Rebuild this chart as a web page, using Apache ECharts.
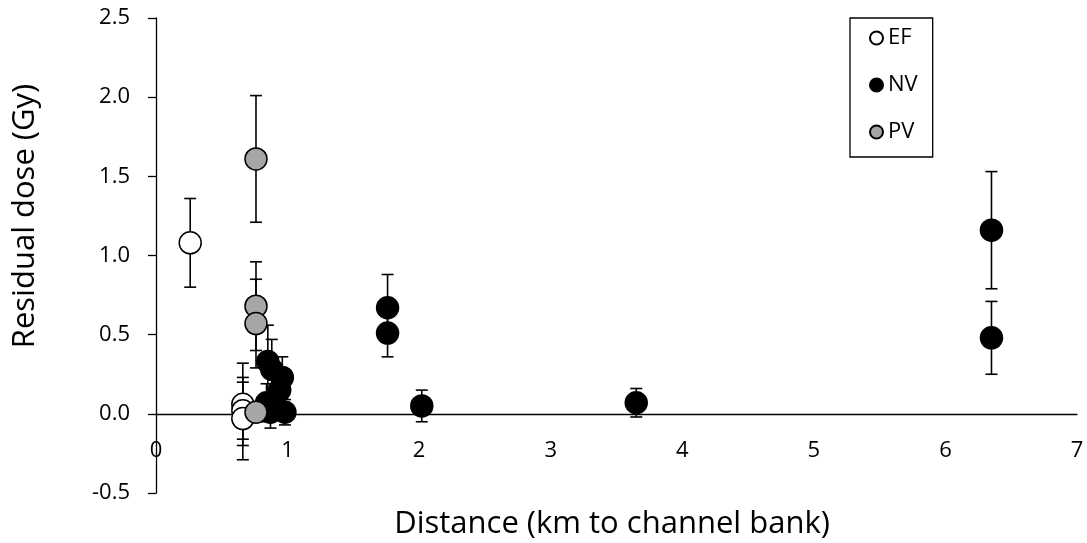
<!DOCTYPE html>
<html>
<head>
<meta charset="utf-8">
<script src="https://cdn.jsdelivr.net/npm/echarts@6/dist/echarts.min.js"></script>
<style>
  html, body { margin: 0; padding: 0; background: #fff; }
  #chart { width: 1087px; height: 543px; }
</style>
</head>
<body>
<div id="chart"></div>
<script>
// distance (km to channel bank), residual dose (Gy), error (Gy)
const efX = [0.26, 0.66, 0.66, 0.66]
const efY = [1.08, 0.06, 0.02, -0.03]
const efErr = [0.28, 0.26, 0.18, 0.26]

const nvX = [0.85, 0.88, 0.96, 0.94, 0.84, 0.90, 0.98, 0.87, 1.76, 1.76, 2.02, 3.65, 6.35, 6.35]
const nvY = [0.33, 0.28, 0.23, 0.15, 0.07, 0.06, 0.01, 0.01, 0.67, 0.51, 0.05, 0.07, 1.16, 0.48]
const nvErr = [0.23, 0.19, 0.13, 0.10, 0.12, 0.10, 0.08, 0.10, 0.21, 0.15, 0.10, 0.09, 0.37, 0.23]

const pvX = [0.76, 0.76, 0.76, 0.76]
const pvY = [1.61, 0.68, 0.57, 0.01]
const pvErr = [0.40, 0.28, 0.28, 0.05]

const font = '"Open Sans", "DejaVu Sans", sans-serif'

// plot area
const gridTop = 18
const gridBottom = 50
const gridHeight = 543 - gridTop - gridBottom
const yMin = -0.5
const yMax = 2.5

function points(xs, ys) {
  return xs.map((x, i) => [x, ys[i]])
}

function errorData(xs, ys, errs) {
  return xs.map((x, i) => [x, ys[i] - errs[i], ys[i] + errs[i]])
}

// vertical error bar with caps, drawn behind the markers
function renderError(params, api) {
  const lo = api.coord([api.value(0), api.value(1)])
  const hi = api.coord([api.value(0), api.value(2)])
  const half = 6
  const style = { stroke: '#000', lineWidth: 1.6 }
  return {
    type: 'group',
    children: [
      { type: 'line', shape: { x1: lo[0], y1: lo[1], x2: hi[0], y2: hi[1] }, style },
      { type: 'line', shape: { x1: lo[0] - half, y1: lo[1], x2: lo[0] + half, y2: lo[1] }, style },
      { type: 'line', shape: { x1: hi[0] - half, y1: hi[1], x2: hi[0] + half, y2: hi[1] }, style }
    ]
  }
}

const errData = []
  .concat(errorData(efX, efY, efErr))
  .concat(errorData(nvX, nvY, nvErr))
  .concat(errorData(pvX, pvY, pvErr))

const chart = echarts.init(document.getElementById('chart'))

chart.setOption({
  backgroundColor: '#fff',
  animation: false,
  grid: { left: 156, right: 10, top: gridTop, bottom: gridBottom },
  xAxis: {
    type: 'value',
    min: 0,
    max: 7,
    interval: 1,
    // x axis crosses at y = 0
    offset: -gridHeight * (0 - yMin) / (yMax - yMin),
    axisLine: { onZero: false, lineStyle: { color: '#000', width: 1.3 } },
    axisTick: { show: false },
    splitLine: { show: false },
    axisLabel: { color: '#000', fontSize: 22, fontFamily: font, margin: 26 }
  },
  yAxis: {
    type: 'value',
    min: yMin,
    max: yMax,
    interval: 0.5,
    axisLine: { show: true, onZero: false, lineStyle: { color: '#000', width: 1.3 } },
    axisTick: { show: true, length: 8, lineStyle: { color: '#000', width: 1.3 } },
    splitLine: { show: false },
    axisLabel: {
      color: '#000', fontSize: 22, fontFamily: font, margin: 26,
      formatter: v => v.toFixed(1)
    }
  },
  legend: {
    orient: 'vertical',
    left: 850,
    top: 18,
    itemWidth: 13,
    itemHeight: 13,
    itemGap: 25,
    padding: [9, 15, 14, 19],
    borderColor: '#000',
    borderWidth: 1.3,
    borderRadius: 0,
    textStyle: { color: '#000', fontSize: 22, fontFamily: font, lineHeight: 22 },
    data: [
      { name: 'EF', icon: 'circle' },
      { name: 'NV', icon: 'circle' },
      { name: 'PV', icon: 'circle' }
    ]
  },
  graphic: [
    {
      type: 'text',
      x: 25,
      y: 216,
      rotation: Math.PI / 2,
      style: {
        text: 'Residual dose (Gy)',
        fill: '#000',
        font: '31px ' + font,
        align: 'center',
        verticalAlign: 'middle'
      }
    },
    {
      type: 'text',
      x: 612,
      y: 524,
      style: {
        text: 'Distance (km to channel bank)',
        fill: '#000',
        font: '31px ' + font,
        align: 'center',
        verticalAlign: 'middle'
      }
    }
  ],
  series: [
    {
      type: 'custom',
      name: 'errors',
      z: 1,
      renderItem: renderError,
      encode: { x: 0, y: [1, 2] },
      data: errData
    },
    {
      type: 'scatter',
      name: 'EF',
      z: 2,
      symbolSize: 22,
      itemStyle: { color: '#fff', borderColor: '#000', borderWidth: 1.5, opacity: 1 },
      data: points(efX, efY)
    },
    {
      type: 'scatter',
      name: 'NV',
      z: 3,
      symbolSize: 22,
      itemStyle: { color: '#000', borderColor: '#000', borderWidth: 1.5, opacity: 1 },
      data: points(nvX, nvY)
    },
    {
      type: 'scatter',
      name: 'PV',
      z: 4,
      symbolSize: 22,
      itemStyle: { color: '#a6a6a6', borderColor: '#000', borderWidth: 1.5, opacity: 1 },
      data: points(pvX, pvY)
    }
  ]
})

window.addEventListener('resize', () => chart.resize())
</script>
</body>
</html>
